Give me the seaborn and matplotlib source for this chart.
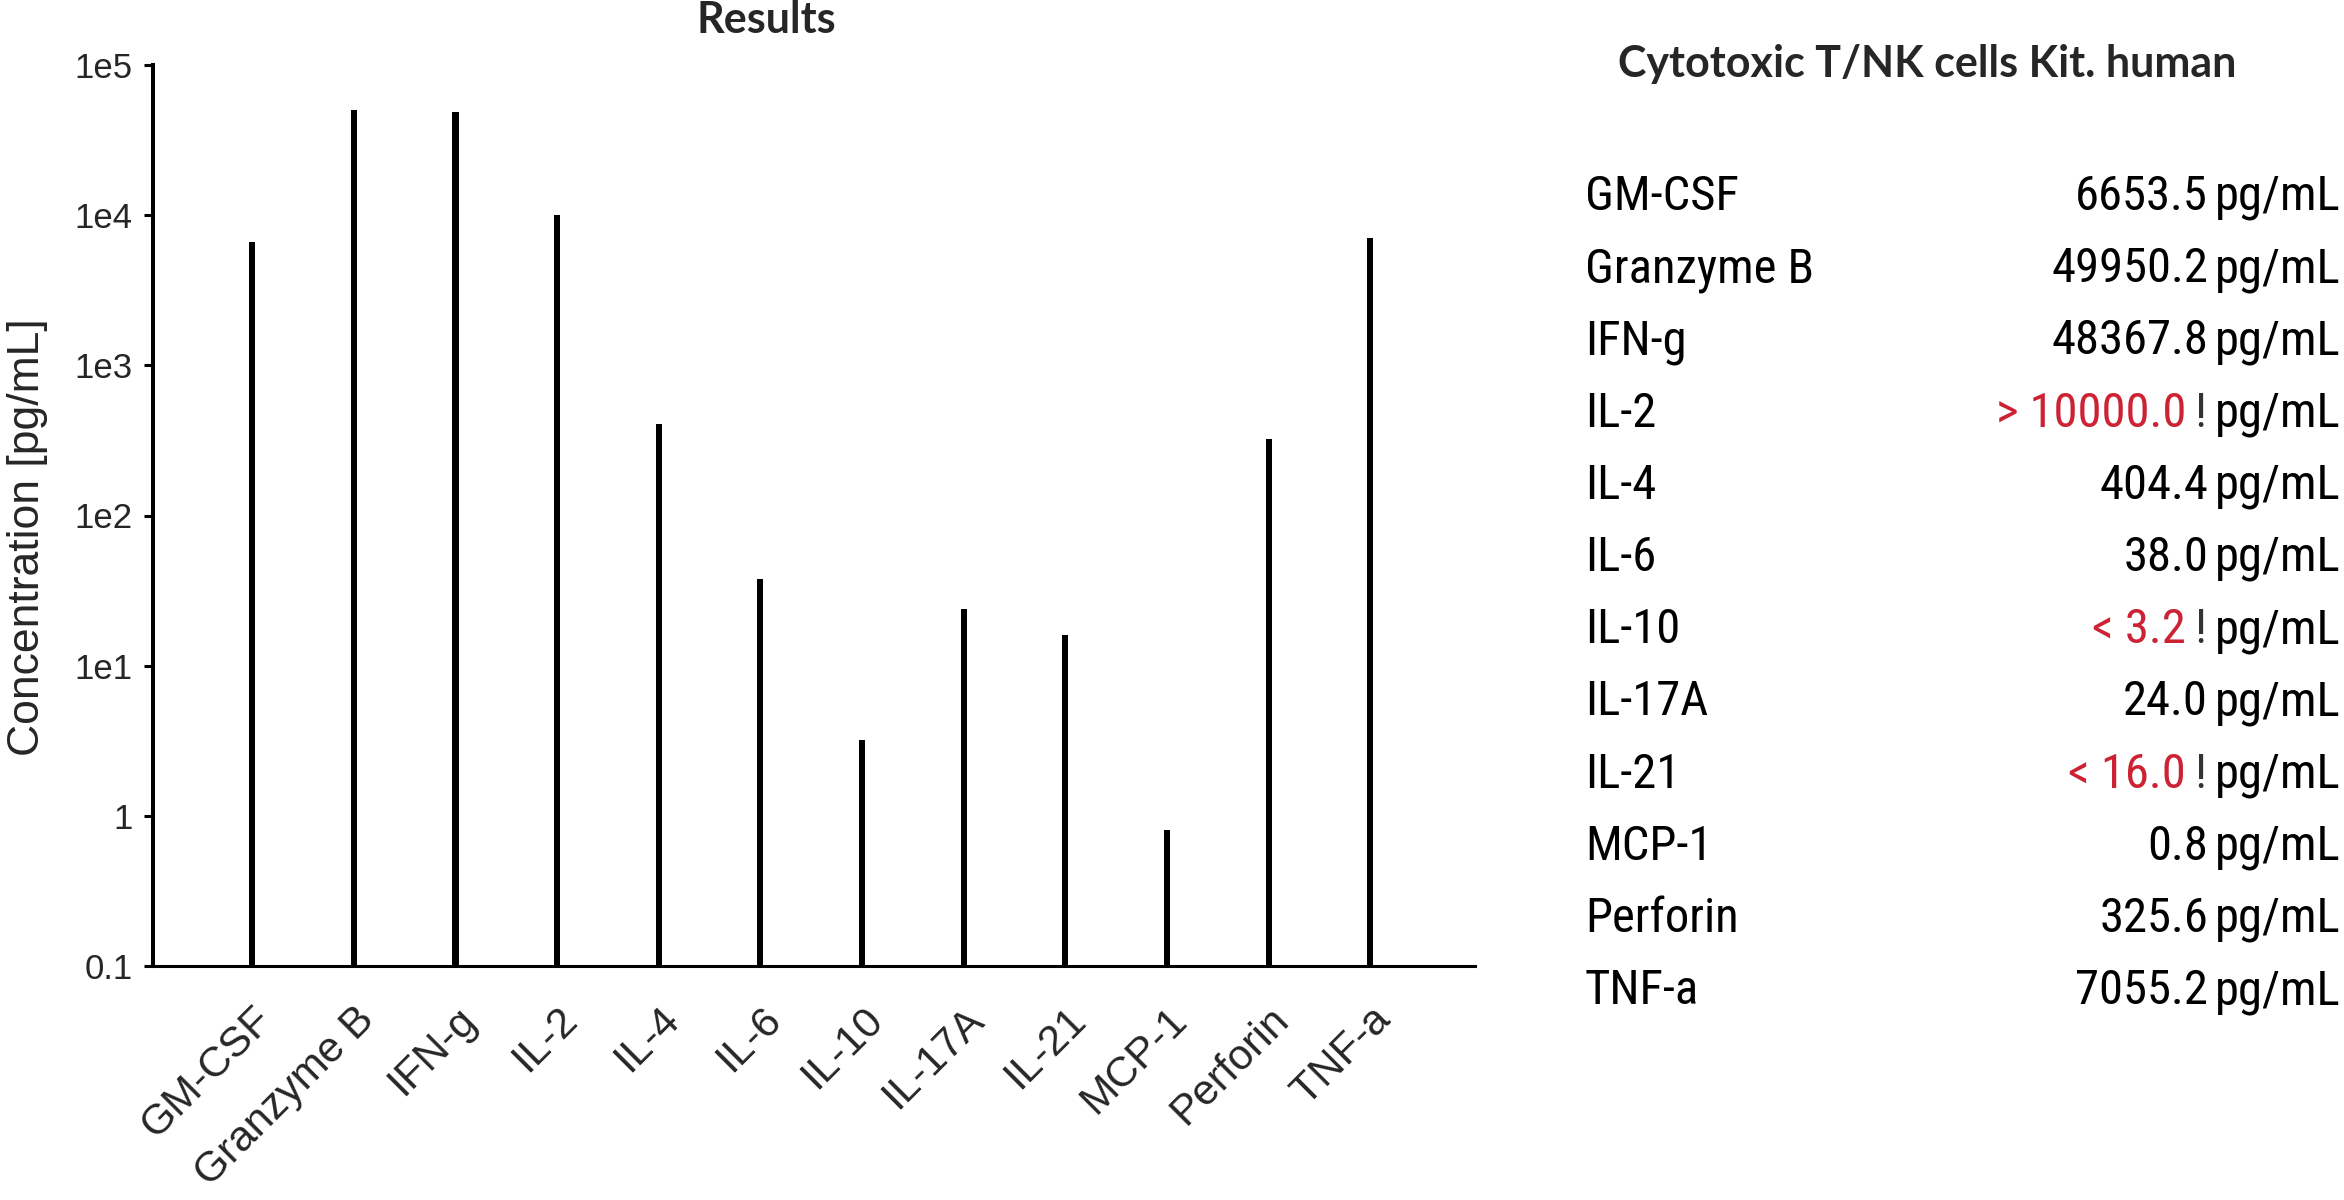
import matplotlib
matplotlib.use("Agg")
import matplotlib.pyplot as plt
from matplotlib import font_manager
import pandas as pd
import seaborn as sns

# --- dados ---
analitos = ['GM-CSF', 'Granzyme B', 'IFN-g', 'IL-2', 'IL-4', 'IL-6',
            'IL-10', 'IL-17A', 'IL-21', 'MCP-1', 'Perforin', 'TNF-a']
concentracao = [6653.5, 49950.2, 48367.8, 10000.0, 404.4, 38.0,
                3.2, 24.0, 16.0, 0.8, 325.6, 7055.2]
sinal = ['', '', '', '>', '', '', '<', '', '<', '', '', '']
y_ticks = [0.1, 1, 10, 100, 1000, 10000, 100000]
y_rotulos = ['0.1', '1', '1e1', '1e2', '1e3', '1e4', '1e5']
unidade = 'pg/mL'
titulo_grafico = 'Results'
titulo_tabela = 'Cytotoxic T/NK cells Kit. human'

df = pd.DataFrame({'Analito': analitos, 'Conc': concentracao, 'Sinal': sinal})

sns.set_theme(style='ticks')
plt.rcParams['font.family'] = ['Liberation Sans', 'DejaVu Sans']

# fonte estreita para a tabela, se existir
instaladas = {f.name for f in font_manager.fontManager.ttflist}
fonte_tab, tam_tab = ['Liberation Sans', 'DejaVu Sans'], 32
for nome in ['Liberation Sans Narrow', 'Arial Narrow', 'Roboto Condensed']:
    if nome in instaladas:
        fonte_tab, tam_tab = [nome, 'Liberation Sans', 'DejaVu Sans'], 35
        break

W, H = 2344, 1200
fig = plt.figure(figsize=(W / 100, H / 100), dpi=100)

# eixo principal (posições em pixels da imagem de referência)
x0, x1, y0, y1 = 153, 1475, 65, 966
ax = fig.add_axes([x0 / W, 1 - y1 / H, (x1 - x0) / W, (y1 - y0) / H])

sns.barplot(data=df, x='Analito', y='Conc', color='black', saturation=1,
            width=0.06, linewidth=0, ax=ax, errorbar=None)
ax.set_yscale('log')
ax.set_ylim(0.1, 1e5)
ax.set_xlim(-0.976, 12.03)
ax.set_yticks(y_ticks)
ax.set_yticklabels(y_rotulos)
ax.minorticks_off()
ax.tick_params(axis='y', length=6.5, width=2.2, pad=8, labelsize=25, color='black')
ax.tick_params(axis='x', length=0, pad=24, labelsize=30.5)
sns.despine(ax=ax)
ax.spines['left'].set_linewidth(2.9)
ax.spines['bottom'].set_linewidth(2.2)
ax.spines['left'].set_color('black')
ax.spines['bottom'].set_color('black')
ax.set_xlabel('')
ax.set_ylabel('Concentration [pg/mL]', fontsize=32, va='center')
ax.yaxis.set_label_coords((28 - x0) / (x1 - x0), 1 - (537 - y0) / (y1 - y0))

for lab in ax.get_xticklabels():
    lab.set_rotation(45)
    lab.set_ha('right')
    lab.set_va('top')
    lab.set_rotation_mode('anchor')

fig.text(766 / W, 1 - 20 / H, titulo_grafico, ha='center', va='center',
         fontsize=31, fontweight='bold', family=['Lato', 'DejaVu Sans'])

# tabela de resultados à direita
fig.text(1927 / W, 1 - 64 / H, titulo_tabela, ha='center', va='center',
         fontsize=31, fontweight='bold', family=['Lato', 'DejaVu Sans'])

tab = fig.add_axes([0, 0, 1, 1])
tab.set_axis_off()
tab.set_xlim(0, W)
passo, base0 = 72.2, 210
tab.set_ylim((H - base0) / passo, -base0 / passo)
vermelho = '#cc2233'
for i, (nome, val, s) in enumerate(zip(analitos, concentracao, sinal)):
    tab.text(1585, i, nome, ha='left', va='baseline', fontsize=tam_tab,
             family=fonte_tab, color='black')
    tab.text(2340, i, unidade, ha='right', va='baseline', fontsize=tam_tab,
             family=fonte_tab, color='black')
    if s:
        tab.text(2186, i, f'{s} {val:.1f}', ha='right', va='baseline',
                 fontsize=tam_tab, family=fonte_tab, color=vermelho)
        tab.text(2206, i, '!', ha='right', va='baseline', fontsize=tam_tab,
                 family=fonte_tab, color='#333333')
    else:
        tab.text(2208, i, f'{val:.1f}', ha='right', va='baseline',
                 fontsize=tam_tab, family=fonte_tab, color='black')

fig.savefig('out.png', dpi=100)
